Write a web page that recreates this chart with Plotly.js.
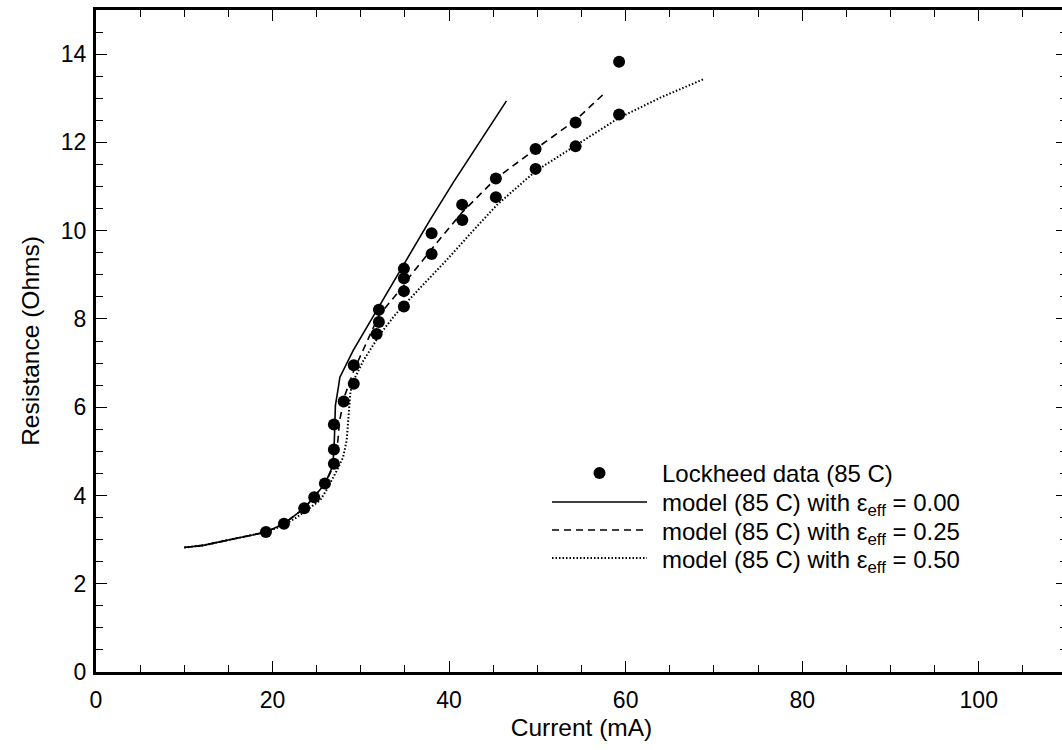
<!DOCTYPE html>
<html>
<head>
<meta charset="utf-8">
<script src="https://cdn.plot.ly/plotly-3.0.1.min.js"></script>
<style>
html,body{margin:0;padding:0;overflow:hidden;background:#fff;}
#chart{width:1072px;height:750px;}
</style>
</head>
<body>
<div id="chart"></div>
<script>
// Lockheed measured data (85 C)
var dataCurrent = [19.25,21.29,23.59,24.72,25.93,26.95,26.95,26.95,28.06,29.2,29.2,31.79,32.05,32.05,34.88,34.88,34.88,34.88,38.02,38.02,41.5,41.48,45.3,45.3,49.8,49.8,54.33,54.33,59.26,59.26];
var dataResistance = [3.17,3.36,3.71,3.96,4.27,4.72,5.04,5.61,6.13,6.53,6.95,7.66,7.93,8.21,8.28,8.63,8.92,9.14,9.47,9.94,10.24,10.59,10.76,11.18,11.40,11.85,11.91,12.45,12.63,13.83];

// model, eps_eff = 0.00
var model0Current = [10.0,12.15,15.93,19.25,21.29,23.59,25.93,26.84,27.0,27.12,27.4,27.63,29.14,31.79,34.8,37.83,40.5,43.5,46.5];
var model0Resistance = [2.82,2.87,3.03,3.17,3.36,3.71,4.26,4.68,5.25,6.04,6.38,6.68,7.29,8.19,9.2,10.24,11.1,12.03,12.94];

// model, eps_eff = 0.25
var model25Current = [10.0,12.15,15.93,19.25,21.29,23.59,25.93,26.8,27.3,27.6,28.2,29.2,32.05,34.88,35.5,38.5,41.5,45.3,49.8,54.3,57.8];
var model25Resistance = [2.82,2.87,3.03,3.17,3.36,3.71,4.26,4.62,5.02,5.7,6.27,6.83,8.08,8.76,8.95,9.7,10.42,11.18,11.85,12.5,13.15];

// model, eps_eff = 0.50
var model50Current = [10.0,12.15,15.93,19.25,21.0,22.7,25.4,26.1,27.3,28.0,28.4,28.6,28.8,29.0,30.3,32.2,34.0,36.7,39.7,42.4,45.4,49.8,54.3,59.2,64.0,68.8];
var model50Resistance = [2.82,2.87,3.03,3.17,3.3,3.5,3.89,4.12,4.57,4.87,5.25,5.85,6.3,6.53,7.06,7.66,8.12,8.7,9.33,9.93,10.58,11.35,11.92,12.55,13.02,13.43];

var legendNames = [
  'Lockheed data (85 C)',
  'model (85 C) with \u03b5<sub>eff</sub> = 0.00',
  'model (85 C) with \u03b5<sub>eff</sub> = 0.25',
  'model (85 C) with \u03b5<sub>eff</sub> = 0.50'
];

var FONT = '"Liberation Sans", Arial, Helvetica, sans-serif';
var W = 1072, H = 750, ML = 96, MR = 5, MT = 10, MB = 78;
var PW = W - ML - MR, PH = H - MT - MB;
function px2x(px) { return (px - ML) / PW; }
function py2y(py) { return (H - MB - py) / PH; }

var styles = [
  {color: '#000', width: 1.6, dash: 'solid'},
  {color: '#000', width: 1.6, dash: '7px,5px'},
  {color: '#000', width: 2, dash: '1.5px,2px'}
];

var traces = [
  {x: model0Current, y: model0Resistance, mode: 'lines', name: legendNames[1], line: styles[0], showlegend: false},
  {x: model25Current, y: model25Resistance, mode: 'lines', name: legendNames[2], line: styles[1], showlegend: false},
  {x: model50Current, y: model50Resistance, mode: 'lines', name: legendNames[3], line: styles[2], showlegend: false},
  {x: dataCurrent, y: dataResistance, mode: 'markers', name: legendNames[0], showlegend: false,
   marker: {color: '#000', size: 12, symbol: 'circle'}}
];

// hand-built legend (sample symbols + texts)
var legRowsY = [474, 502, 530, 558];
var symX0 = 552, symX1 = 647, textX = 661;
var shapes = [];
var annotations = [];
var symC = (symX0 + symX1) / 2;
shapes.push({type: 'circle', xref: 'paper', yref: 'paper',
  x0: px2x(symC - 6), x1: px2x(symC + 6), y0: py2y(legRowsY[0] - 1 + 6), y1: py2y(legRowsY[0] - 1 - 6),
  fillcolor: '#000', line: {color: '#000', width: 0}});
for (var i = 0; i < 3; i++) {
  shapes.push({type: 'line', xref: 'paper', yref: 'paper',
    x0: px2x(symX0), x1: px2x(symX1), y0: py2y(legRowsY[i + 1]), y1: py2y(legRowsY[i + 1]),
    line: styles[i]});
}
for (var j = 0; j < 4; j++) {
  annotations.push({xref: 'paper', yref: 'paper', x: px2x(textX), y: py2y(legRowsY[j] + (j > 0 ? 3 : 0)),
    xanchor: 'left', yanchor: 'middle', showarrow: false, text: legendNames[j],
    font: {family: FONT, size: 24, color: '#000'}, borderpad: 0});
}

var axisCommon = {
  showgrid: false, zeroline: false, showline: true, linecolor: '#000', linewidth: 3,
  mirror: 'allticks', ticks: 'inside', ticklen: 11, tickwidth: 1, tickcolor: '#000',
  tickfont: {family: FONT, size: 23, color: '#000'}
};

var layout = {
  width: W, height: H,
  margin: {l: ML, r: MR, t: MT, b: MB},
  paper_bgcolor: '#fff', plot_bgcolor: '#fff',
  font: {family: FONT, size: 23, color: '#000'},
  showlegend: false,
  xaxis: Object.assign({}, axisCommon, {
    range: [0, 110], tick0: 0, dtick: 20, ticklabelstandoff: 5,
    minor: {dtick: 5, ticks: 'inside', ticklen: 7, tickwidth: 1, tickcolor: '#000'},
    title: {text: 'Current (mA)', font: {family: FONT, size: 24.5, color: '#000'}, standoff: 8}
  }),
  yaxis: Object.assign({}, axisCommon, {
    range: [0, 15], tick0: 0, dtick: 2, ticklabelstandoff: 2,
    minor: {dtick: 0.5, ticks: 'inside', ticklen: 7, tickwidth: 1, tickcolor: '#000'},
    title: {text: 'Resistance (Ohms)', font: {family: FONT, size: 24.5, color: '#000'}, standoff: 15}
  }),
  shapes: shapes,
  annotations: annotations
};

Plotly.newPlot('chart', traces, layout, {displayModeBar: false, staticPlot: true});
</script>
</body>
</html>
